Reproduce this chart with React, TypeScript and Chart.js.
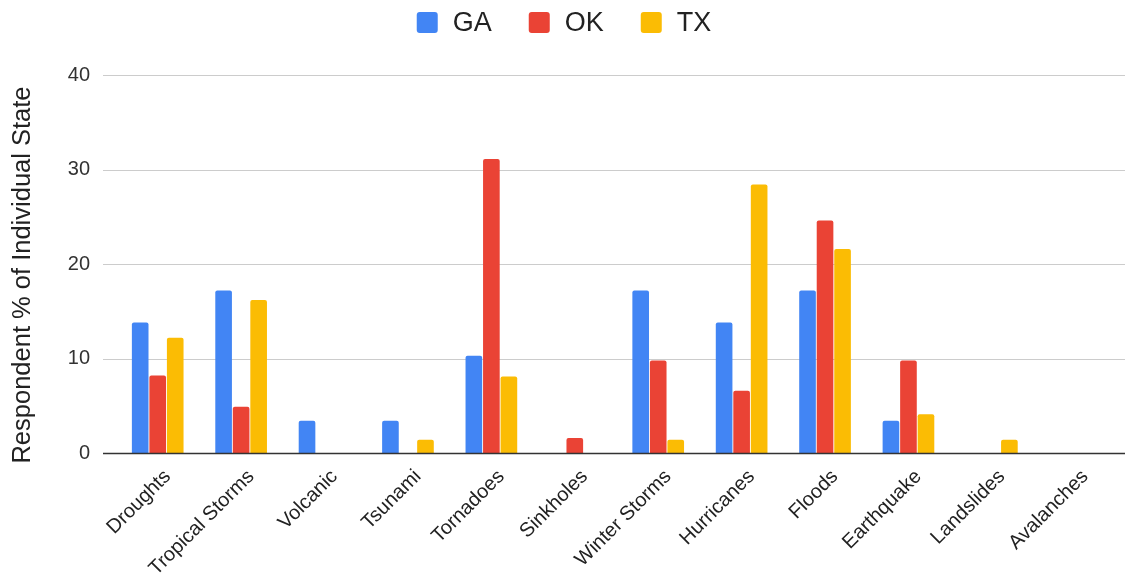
import React, { useEffect, useRef } from "react";
import { Chart, registerables } from "chart.js";
Chart.register(...registerables);

const categories = [
  "Droughts",
  "Tropical Storms",
  "Volcanic",
  "Tsunami",
  "Tornadoes",
  "Sinkholes",
  "Winter Storms",
  "Hurricanes",
  "Floods",
  "Earthquake",
  "Landslides",
  "Avalanches",
];
const gaValues = [13.8, 17.2, 3.4, 3.4, 10.3, 0, 17.2, 13.8, 17.2, 3.4, 0, 0];
const okValues = [8.2, 4.9, 0, 0, 31.1, 1.6, 9.8, 6.6, 24.6, 9.8, 0, 0];
const txValues = [12.2, 16.2, 0, 1.4, 8.1, 0, 1.4, 28.4, 21.6, 4.1, 1.4, 0];
const seriesNames = ["GA", "OK", "TX"];
const seriesColors = ["#4285F4", "#EA4335", "#FBBC04"];
const yTickValues = [0, 10, 20, 30, 40];
const yTitle = "Respondent % of Individual State";

const FONT = "'Liberation Sans', Arial, sans-serif";

export default function App() {
  const ref = useRef<HTMLCanvasElement | null>(null);

  useEffect(() => {
    document.body.style.margin = "0";
    const canvas = ref.current;
    if (!canvas) return;

    const decor = {
      id: "decor",
      beforeDatasetsDraw(chart: any) {
        const ctx = chart.ctx;
        const y = chart.scales.y;
        const left = chart.chartArea.left - 13;
        const right = chart.width;
        ctx.save();
        ctx.strokeStyle = "#cccccc";
        ctx.lineWidth = 1;
        for (const v of yTickValues) {
          if (v === 0) continue;
          const py = Math.round(y.getPixelForValue(v)) + 0.5;
          ctx.beginPath();
          ctx.moveTo(left, py);
          ctx.lineTo(right, py);
          ctx.stroke();
        }
        ctx.restore();
      },
      afterDatasetsDraw(chart: any) {
        const ctx = chart.ctx;
        const y = chart.scales.y;
        const left = chart.chartArea.left - 13;
        const right = chart.width;
        ctx.save();
        ctx.strokeStyle = "#333333";
        ctx.lineWidth = 1.5;
        const py = Math.round(y.getPixelForValue(0)) + 0.5;
        ctx.beginPath();
        ctx.moveTo(left, py);
        ctx.lineTo(right, py);
        ctx.stroke();
        ctx.restore();
      },
      afterDraw(chart: any) {
        const ctx = chart.ctx;
        ctx.save();
        // legend
        ctx.font = `27px ${FONT}`;
        const box = 21;
        const gap = 15;
        const spacing = 37;
        const widths = seriesNames.map((n) => box + gap + ctx.measureText(n).width);
        const total = widths.reduce((a, b) => a + b, 0) + spacing * (seriesNames.length - 1);
        let x = 564 - total / 2;
        const cy = 22.5;
        seriesNames.forEach((n, i) => {
          ctx.fillStyle = seriesColors[i];
          ctx.beginPath();
          (ctx as any).roundRect(x, cy - box / 2, box, box, 3);
          ctx.fill();
          ctx.fillStyle = "#222222";
          ctx.textAlign = "left";
          ctx.textBaseline = "middle";
          ctx.fillText(n, x + box + gap, cy + 1);
          x += widths[i] + spacing;
        });
        // y title
        ctx.translate(23, 275);
        ctx.rotate(-Math.PI / 2);
        ctx.font = `25.5px ${FONT}`;
        ctx.fillStyle = "#222222";
        ctx.textAlign = "center";
        ctx.textBaseline = "middle";
        ctx.fillText(yTitle, 0, 0);
        ctx.restore();
      },
    };

    const chart = new Chart(canvas, {
      type: "bar",
      data: {
        labels: categories,
        datasets: [gaValues, okValues, txValues].map((vals, i) => ({
          label: seriesNames[i],
          data: vals,
          backgroundColor: seriesColors[i],
          borderRadius: 2,
          categoryPercentage: 0.63,
          barPercentage: 0.95,
        })),
      },
      options: {
        responsive: false,
        animation: false,
        layout: { padding: { top: 75, right: 8, left: 0, bottom: 0 } },
        plugins: {
          legend: { display: false },
          tooltip: { enabled: false },
        },
        scales: {
          x: {
            grid: { display: false },
            border: { display: false },
            ticks: {
              autoSkip: false,
              minRotation: 45,
              maxRotation: 45,
              color: "#222222",
              font: { family: FONT, size: 20 },
              padding: 4,
              labelOffset: 10,
            },
            afterFit: (s: any) => {
              s.height = 129;
            },
          },
          y: {
            min: 0,
            max: 40,
            grid: { display: false },
            border: { display: false },
            ticks: {
              stepSize: 10,
              color: "#333333",
              font: { family: FONT, size: 20 },
              padding: 18,
            },
            afterFit: (s: any) => {
              s.width = 116;
            },
          },
        },
      },
      plugins: [decor],
    });

    return () => chart.destroy();
  }, []);

  return (
    <div style={{ width: 1125, height: 582 }}>
      <canvas ref={ref} width={1125} height={582} />
    </div>
  );
}
